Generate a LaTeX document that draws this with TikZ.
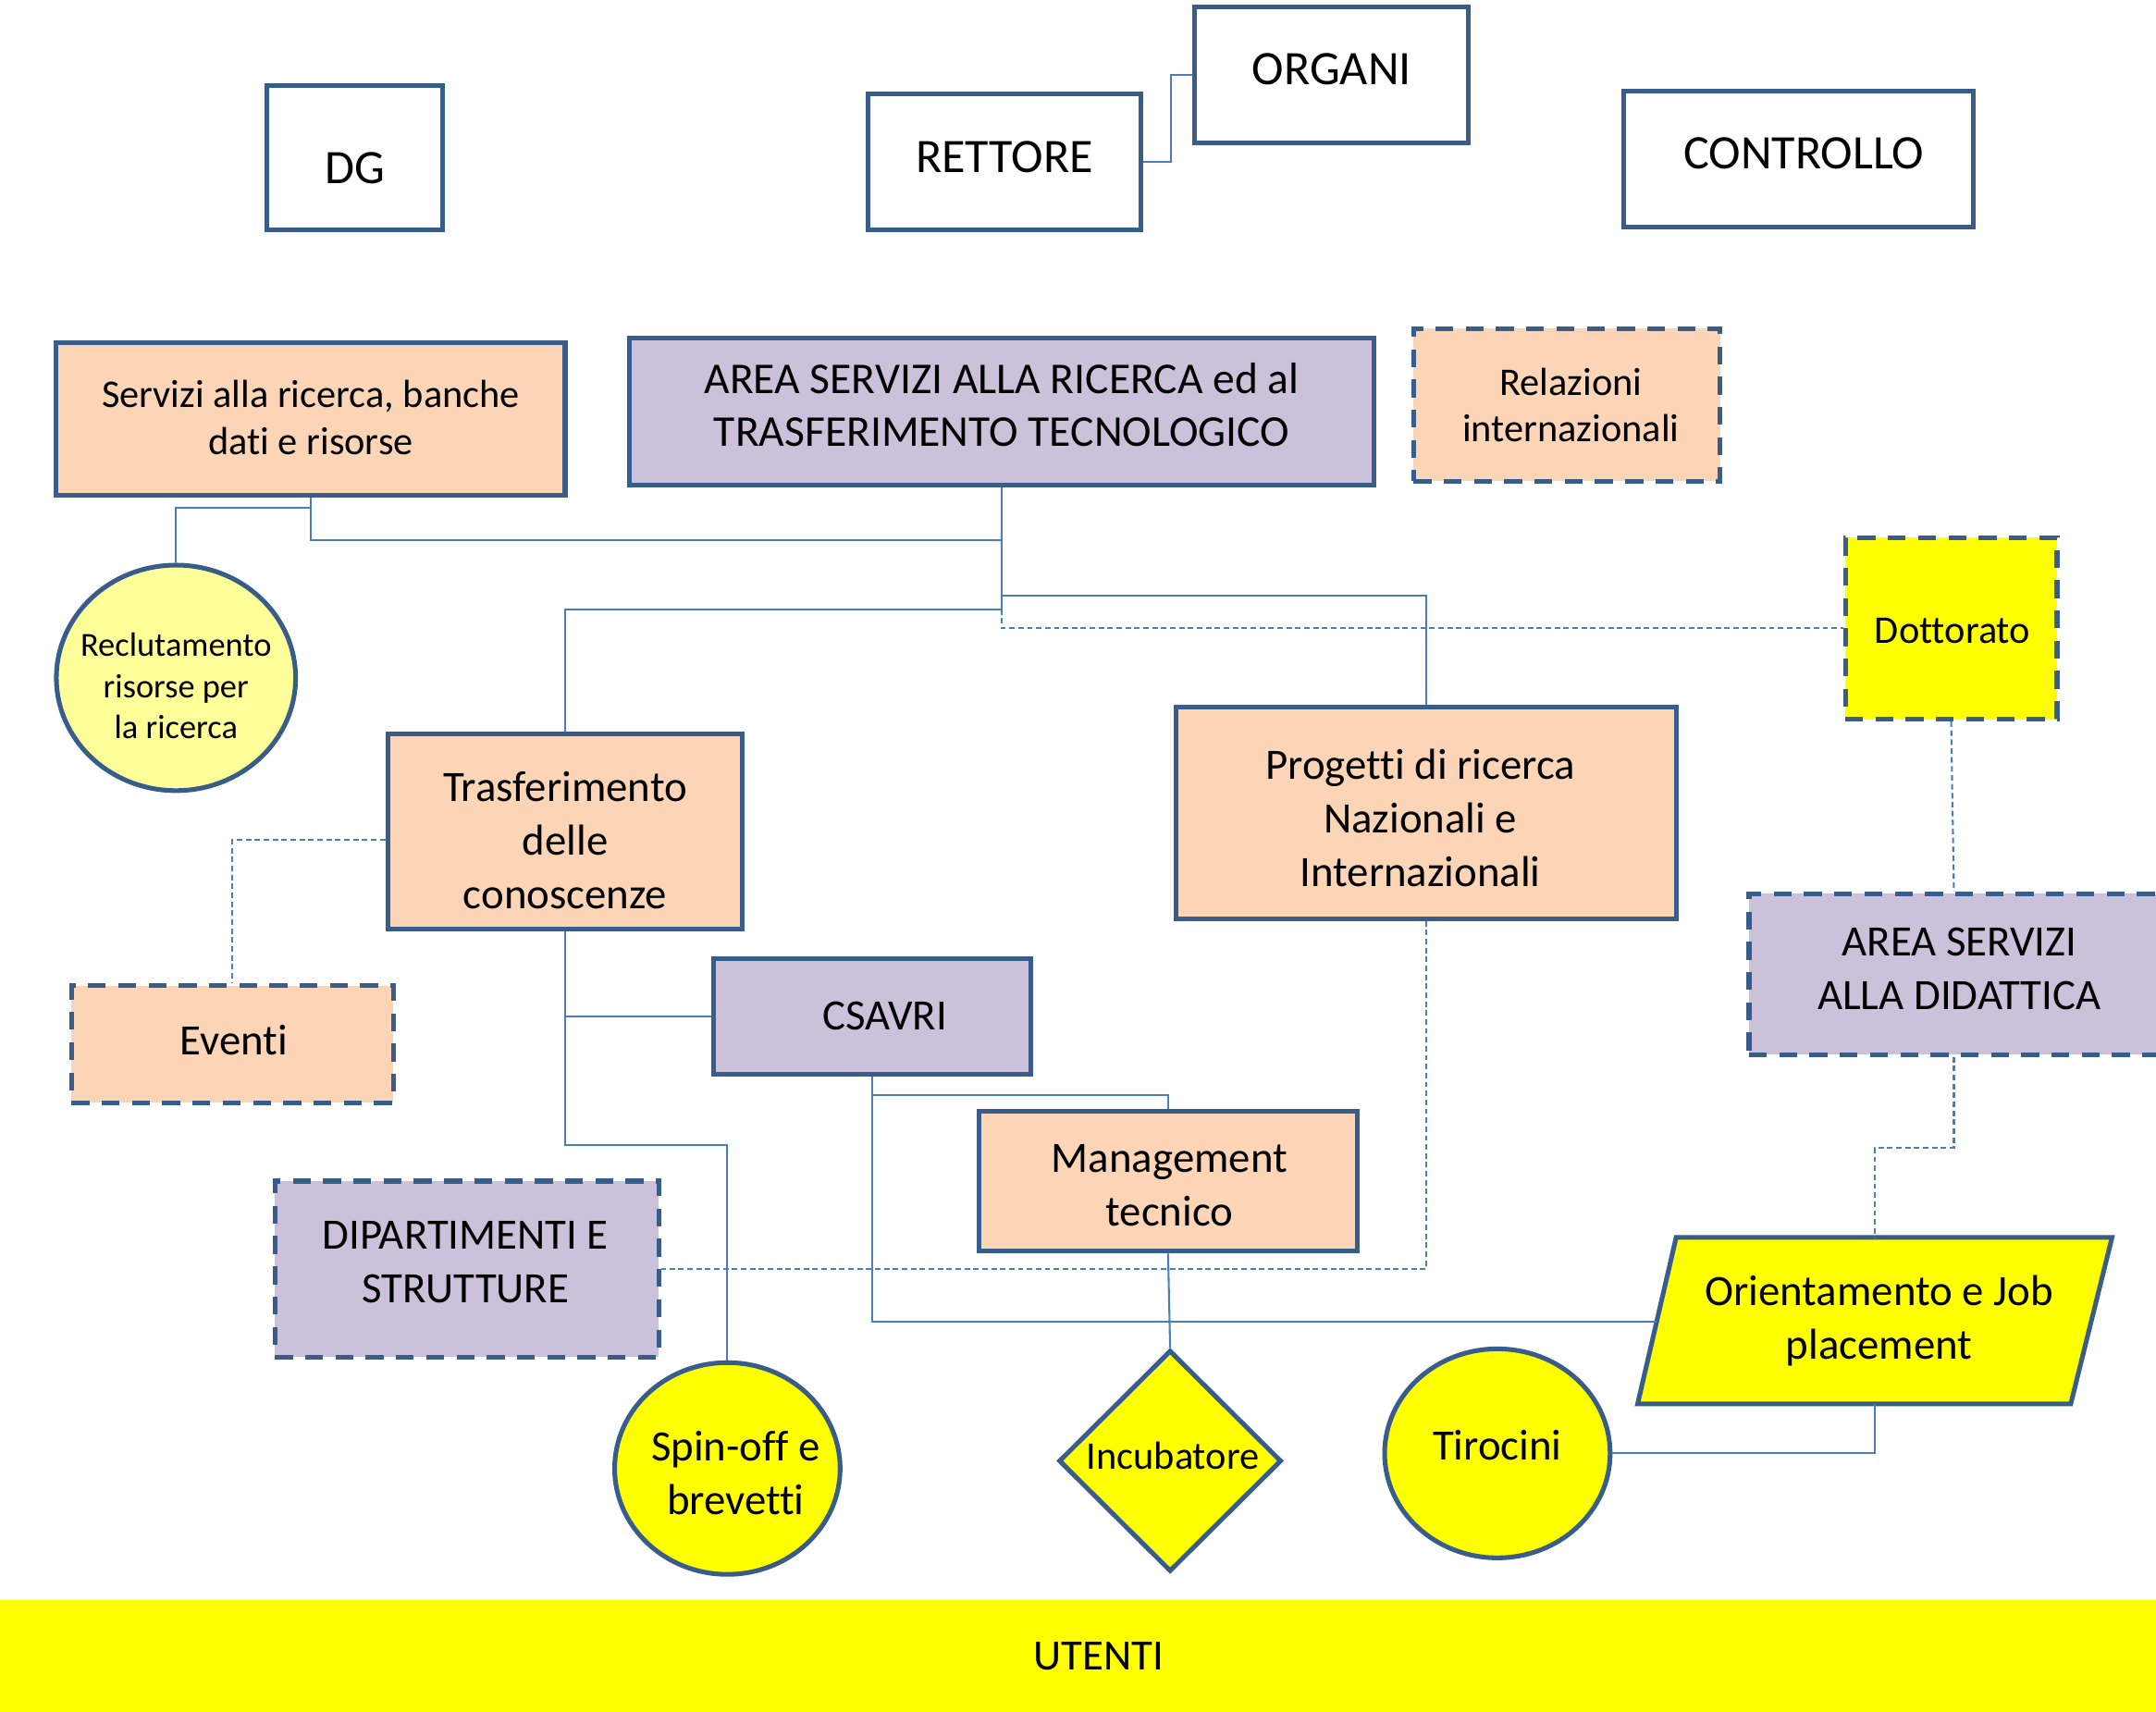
\documentclass[tikz,border=0pt]{standalone}
\usepackage{fontspec}
\setmainfont{Carlito}[Ligatures=NoCommon]
\usetikzlibrary{shapes.geometric}
\definecolor{bd}{HTML}{385D8A}
\definecolor{cn}{HTML}{4A7EBB}
\definecolor{peach}{HTML}{FBD5B5}
\definecolor{lav}{HTML}{CCC1DA}
\definecolor{lyel}{HTML}{FFFF99}
\definecolor{yel}{HTML}{FFFF00}
\begin{document}
\begin{tikzpicture}[x=1pt,y=-1pt,
 box/.style={draw=bd, line width=3.4pt, inner sep=0pt, align=center},
 dbox/.style={box, dash pattern=on 13pt off 9pt},
 ell/.style={box, ellipse},
 lb/.style={align=center, inner sep=0pt},
 fL/.style={font=\fontsize{35}{43}\selectfont},
 fM/.style={font=\fontsize{31.5}{39}\selectfont},
 fA/.style={font=\fontsize{32}{38}\selectfont},
 fS/.style={font=\fontsize{28.5}{34}\selectfont},
 fXS/.style={font=\fontsize{24.5}{30}\selectfont},
 conn/.style={draw=cn, line width=1.4pt},
 dotl/.style={conn, dash pattern=on 4pt off 2.5pt},
]
\useasboundingbox (0,0) rectangle (1568,1245);
\fill[white] (0,0) rectangle (1568,1245);

% top row
\node[box, minimum width=128pt, minimum height=105pt,
  label={[lb,fL,yshift=-8pt]center:DG}] (dg) at (258,114.5) {};
\node[box, minimum width=199pt, minimum height=99pt,
  label={[lb,fL,yshift=3pt]center:RETTORE}] (rett) at (730.5,117.5) {};
\node[box, minimum width=199pt, minimum height=99pt,
  label={[lb,fL,yshift=4pt]center:ORGANI}] (org) at (968.5,54.5) {};
\node[box, minimum width=254pt, minimum height=99pt,
  label={[lb,fL,xshift=4pt,yshift=4pt]center:CONTROLLO}] (ctrl) at (1308,115.5) {};

% second row
\node[box, fill=peach, minimum width=370pt, minimum height=111pt,
  label={[lb,fS,yshift=1pt]center:{Servizi alla ricerca, banche\\dati e risorse}}] (serv) at (226,304.5) {};
\node[box, fill=lav, minimum width=541pt, minimum height=107pt,
  label={[lb,fA,yshift=5pt]center:{AREA SERVIZI ALLA RICERCA ed al\\TRASFERIMENTO TECNOLOGICO}}] (area) at (728.5,299.5) {};
\node[dbox, fill=peach, minimum width=223pt, minimum height=111pt,
  label={[lb,fS,xshift=3pt]center:{Relazioni\\internazionali}}] (rel) at (1139.5,294.5) {};

\node[ell, fill=lyel, minimum width=174pt, minimum height=164pt,
  label={[lb,fXS,yshift=-6pt]center:{Reclutamento\\risorse per\\la ricerca}}] (recl) at (128,493) {};
\node[dbox, fill=yel, minimum width=154pt, minimum height=132pt,
  label={[lb,fS,xshift=1pt,yshift=-2pt]center:Dottorato}] (dott) at (1419,457) {};

\node[box, fill=peach, minimum width=258pt, minimum height=142pt,
  label={[lb,fM,yshift=-6pt]center:{Trasferimento\\delle\\conoscenze}}] (trasf) at (411,605) {};
\node[box, fill=peach, minimum width=364pt, minimum height=154pt,
  label={[lb,fM,xshift=-4pt,yshift=-4pt]center:{Progetti di ricerca\\Nazionali e\\Internazionali}}] (prog) at (1037,591) {};
\node[dbox, fill=lav, minimum width=298pt, minimum height=117pt,
  label={[lb,fM,xshift=4pt,yshift=4pt]center:{AREA SERVIZI\\ALLA DIDATTICA}}] (did) at (1421,708.5) {};

\node[dbox, fill=peach, minimum width=234pt, minimum height=85pt,
  label={[lb,fM,xshift=1pt,yshift=3pt]center:Eventi}] (event) at (169,759.5) {};
\node[box, fill=lav, minimum width=231pt, minimum height=84pt,
  label={[lb,fM,xshift=9pt]center:CSAVRI}] (csavri) at (634.5,739) {};
\node[box, fill=peach, minimum width=275pt, minimum height=102pt,
  label={[lb,fM,xshift=1pt,yshift=-3pt]center:{Management\\tecnico}}] (mgmt) at (849.5,859) {};
\node[dbox, fill=lav, minimum width=279pt, minimum height=128pt,
  label={[lb,fM,xshift=-1pt,yshift=5pt]center:{DIPARTIMENTI E\\STRUTTURE}}] (dip) at (339.5,923) {};

% parallelogram
\draw[bd, line width=3.4pt, fill=yel] (1219,900) -- (1536,900) -- (1506,1021) -- (1191,1021) -- cycle;
\node[lb, fM, minimum width=300pt, minimum height=121pt] (orient) at (1363.5,960.5) {\hspace*{6pt}Orientamento e Job\\\hspace*{6pt}placement};
\coordinate (oleft) at (1205,961);

\node[ell, fill=yel, minimum width=164pt, minimum height=154pt,
  label={[lb,fM,xshift=6pt,yshift=-3pt]center:{Spin-off e\\brevetti}}] (spin) at (529,1068) {};
\node[box, diamond, fill=yel, minimum width=162pt, minimum height=161pt,
  label={[lb,fS,xshift=2pt,yshift=4pt]center:Incubatore}] (incub) at (851,1062.5) {};
\node[ell, fill=yel, minimum width=164pt, minimum height=152pt,
  label={[lb,fM,yshift=6pt]center:Tirocini}] (tiro) at (1089,1057) {};

\node[fill=yel, fM, inner sep=0pt, minimum width=1568pt, minimum height=81pt] (ut) at (784,1204.5) {\hspace*{30pt}UTENTI};

% connectors
\draw[conn] (rett.east) -- ++(20,0) |- (org.west);
\coordinate (jR) at (226,369);
\coordinate (jA) at (728.5,393);
\coordinate (jP) at (728.5,433);
\coordinate (jT) at (728.5,443);
\coordinate (jS) at (411,833);
\draw[conn] (serv.south) |- (jA);
\draw[conn] (jR) -| (recl.north);
\draw[conn] (area.south) -- (jT) -| (trasf.north);
\draw[conn] (jP) -| (prog.north);
\draw[dotl] (jT) |- (dott.west);
\draw[dotl] ([yshift=-6pt]trasf.west) -| (event.north);
\draw[conn] (trasf.south) -- (jS) -| (spin.north);
\draw[conn] (trasf.south |- csavri.west) -- (csavri.west);
\draw[conn] (csavri.south) |- (oleft);
\draw[conn] ([yshift=-14pt]csavri.south) -| (mgmt.north);
\draw[conn] (mgmt.south) -- (incub.north);
\draw[dotl] (prog.south) |- (dip.east);
\draw[dotl] (dott.south) -- (did.north);
\draw[dotl] (did.south) -- ++(0,66) -| (orient.north);
\draw[conn] (orient.south) |- (tiro.east);
\end{tikzpicture}
\end{document}
